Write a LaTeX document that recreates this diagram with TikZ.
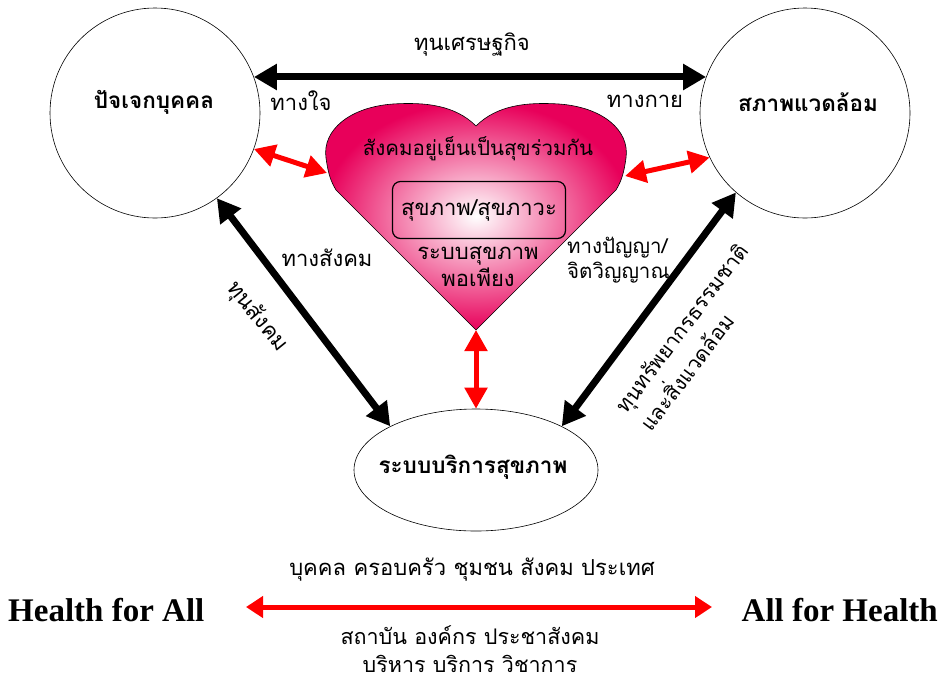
\documentclass[tikz,border=0pt]{standalone}
\usepackage{fontspec}
\usepackage{tikz}
\usetikzlibrary{arrows.meta}
\usetikzlibrary{shapes.geometric}

\newfontfamily\thaifont[Script=Thai]{Loma}
\newfontfamily\latinfont{Liberation Serif}
\definecolor{heartpink}{RGB}{232,0,90}

\begin{document}
\begin{tikzpicture}[x=1pt,y=-1pt,
	txt/.style={font=\thaifont\fontsize{22}{27}\selectfont, inner sep=1pt},
	bold/.style={font=\thaifont\bfseries\fontsize{22.5}{27}\selectfont, inner sep=1pt},
	capital/.style={draw=black, fill=white, line width=0.6pt, inner sep=0pt},
	blackarrow/.style={black, line width=7pt, {Triangle[length=23pt,width=25pt]}-{Triangle[length=23pt,width=25pt]}},
	redarrow/.style={red, line width=5pt, {Triangle[length=21pt,width=22pt]}-{Triangle[length=21pt,width=22pt]}}]
	
	\useasboundingbox (0,0) rectangle (944,681);
	
	% Circles
	\node [capital, circle, minimum size=210pt] (indiv) at (155,113) {};
	\node [capital, circle, minimum size=210pt] (env) at (805,113) {};
	\node [capital, ellipse, minimum width=244pt, minimum height=122pt] (service) at (476,470) {};
	
	\node [bold] (indivtxt) at (154,102) {ปัจเจกบุคคล};
	\node [bold] (envtxt) at (808,102) {สภาพแวดล้อม};
	\node [bold] (servicetxt) at (473,467) {ระบบบริการสุขภาพ};
	
	% Heart
	\coordinate (tip) at (476,330);
	\coordinate (heartL) at (327,173);
	\coordinate (heartR) at (625,176);
	\shade [inner color=white, outer color=heartpink, draw=black, line width=0.6pt]
		(476,126) .. controls (455,105) and (425,102) .. (393,104)
		.. controls (350,107) and (322,130) .. (326,158)
		.. controls (328,172) and (330,180) .. (336,190)
		-- (tip)
		-- (616,190)
		.. controls (622,180) and (624,172) .. (626,158)
		.. controls (630,130) and (602,107) .. (559,104)
		.. controls (527,102) and (497,105) .. (476,126) -- cycle;
	
	\node [txt, font=\thaifont\fontsize{20.5}{25}\selectfont] (together) at (478,149) {สังคมอยู่เย็นเป็นสุขร่วมกัน};
	\node [txt, draw=black, line width=1.2pt, rounded corners=8pt, minimum width=173pt, minimum height=57pt] (wellbeing) at (479,210) {สุขภาพ/สุขภาวะ};
	\node [txt, align=center] (enough) at (478,267) {ระบบสุขภาพ\\พอเพียง};
	
	% Arrows
	\draw [blackarrow] (indiv.20) -- (env.160);
	\draw [blackarrow] (indiv.-54) -- (service.153);
	\draw [blackarrow] (env.-131) -- (service.27);
	
	\draw [redarrow] (indiv.-20) -- (heartL);
	\draw [redarrow] (env.-155) -- (heartR);
	\draw [redarrow] (tip) -- (service.north);
	
	% Labels
	\node [txt] (econ) at (472,45) {ทุนเศรษฐกิจ};
	\node [txt] (mind) at (301,101) {ทางใจ};
	\node [txt] (body) at (645,101) {ทางกาย};
	\node [txt] (social) at (327,258) {ทางสังคม};
	\node [txt, rotate=-51] (socialcap) at (257,317) {ทุนสังคม};
	\node [txt, font=\thaifont\fontsize{20.5}{25}\selectfont, align=left, anchor=west] (wisdom) at (566,260) {ทางปัญญา/\\จิตวิญญาณ};
	\node [txt, font=\thaifont\fontsize{21}{31}\selectfont, align=left, rotate=53] (nature) at (694,337) {ทุนทรัพยากรธรรมชาติ\\และสิ่งแวดล้อม};
	
	% Bottom
	\node [font=\latinfont\bfseries\fontsize{33}{38}\selectfont, anchor=west, inner sep=0pt] (hfa) at (8,610) {Health for All};
	\node [font=\latinfont\bfseries\fontsize{33}{38}\selectfont, anchor=east, inner sep=0pt] (afh) at (938,610) {All for Health};
	\draw [redarrow, {Triangle[length=17pt,width=21pt]}-{Triangle[length=17pt,width=21pt]}] (246,607) -- (712,607);
	\node [txt] (levels) at (472,570) {บุคคล ครอบครัว ชุมชน สังคม ประเทศ};
	\node [txt, font=\thaifont\fontsize{21.5}{28}\selectfont, align=center, inner sep=0pt] (orgs) at (470,649) {สถาบัน องค์กร ประชาสังคม\\บริหาร บริการ วิชาการ};
	
\end{tikzpicture}
\end{document}
